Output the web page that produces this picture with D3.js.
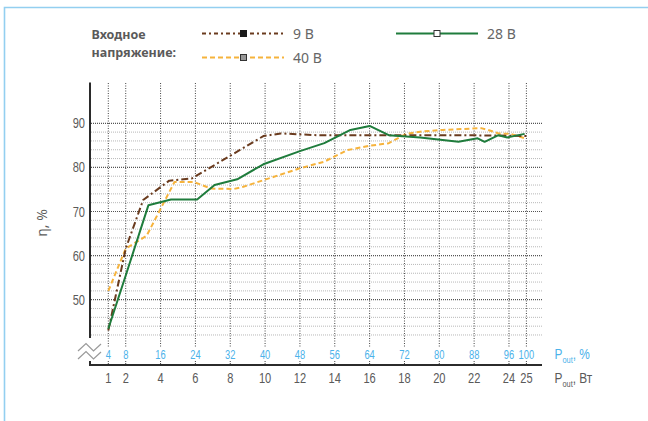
<!DOCTYPE html>
<html><head><meta charset="utf-8">
<script src="https://cdn.jsdelivr.net/npm/d3@7/dist/d3.min.js"></script>
<style>
html,body{margin:0;padding:0;background:#fff;}
svg{display:block;}
text{white-space:pre;}
</style></head>
<body><svg id="c" width="648" height="421"></svg>
<script>
// ---- data ----
const wattTicks = [1, 2, 4, 6, 8, 10, 12, 14, 16, 18, 20, 22, 24, 25];
const percentLabels = ["4", "8", "16", "24", "32", "40", "48", "56", "64", "72", "80", "88", "96", "100"];
const yTicks = [50, 60, 70, 80, 90];
const yMinorTicks = [42, 44, 46, 48, 52, 54, 56, 58, 62, 64, 66, 68, 72, 74, 76, 78, 82, 84, 86, 88];

const v9x = [1, 2, 3, 4.5, 5.8, 9.9, 10.9, 13, 16, 19, 21, 24, 25];
const v9y = [43, 61.6, 72.6, 77, 77.5, 87.1, 87.7, 87.3, 87.3, 87.3, 87.3, 87.2, 87.1];

const v28x = [1, 2, 3.3, 4.6, 6.1, 7.1, 8.4, 9.9, 12, 13.4, 14.9, 16, 17.1, 18.9, 21.1, 22.2, 22.6, 23.4, 23.9, 24.9];
const v28y = [43.4, 55.5, 71.4, 72.7, 72.7, 76, 77.3, 80.7, 83.7, 85.5, 88.5, 89.4, 87.3, 86.8, 85.8, 86.6, 85.8, 87.3, 86.8, 87.6];

const v40x = [1, 2, 3.2, 4.8, 5.9, 6.9, 8.2, 8.75, 9.9, 12, 13.4, 14.7, 16, 17.1, 18.1, 18.9, 20.2, 22.4, 22.8, 23.4, 24.1, 24.9];
const v40y = [52, 61.6, 64.5, 76.7, 76.7, 75.2, 75.1, 75.6, 77.1, 79.8, 81.3, 83.9, 84.9, 85.5, 87.6, 88.1, 88.5, 88.9, 88.5, 87.7, 87.6, 86.6];

const seriesNames = ["9 В", "28 В", "40 В"];

// ---- chart ----
const svg = d3.select("#c");
const cond = "'Liberation Sans','Arimo',sans-serif";
const sans = "'Noto Sans','Open Sans',sans-serif";
const grey = "#5a5a5a";
const blue = "#4cb2ea";
const SX = 0.74;

const x = d3.scaleLinear().domain([1, 25]).range([108.3, 526.4]);
const y = d3.scaleLinear().domain([50, 90]).range([299.7, 123.3]);

// frame
svg.append("path").attr("d", "M4.5,421 V7.5 H648").attr("fill", "none")
  .attr("stroke", "#93cff0").attr("stroke-width", 1.6);

// horizontal grid
const gx0 = 91, gx1 = 542;
svg.append("g").selectAll("line").data(yMinorTicks).join("line")
  .attr("x1", gx0).attr("x2", gx1).attr("y1", d => y(d)).attr("y2", d => y(d))
  .attr("stroke", "#b8b8b8").attr("stroke-width", 1).attr("stroke-dasharray", "1,1");
svg.append("g").selectAll("line").data(yTicks).join("line")
  .attr("x1", gx0).attr("x2", gx1).attr("y1", d => y(d)).attr("y2", d => y(d))
  .attr("stroke", "#555").attr("stroke-width", 1.2).attr("stroke-dasharray", "1,1");

// vertical grid
const vg = svg.append("g");
vg.selectAll("line.a").data(wattTicks).join("line").attr("class", "a")
  .attr("x1", d => x(d)).attr("x2", d => x(d)).attr("y1", 83).attr("y2", 347)
  .attr("stroke", "#444").attr("stroke-width", 1).attr("stroke-dasharray", "1,1.5");
vg.selectAll("line.b").data(wattTicks).join("line").attr("class", "b")
  .attr("x1", d => x(d)).attr("x2", d => x(d)).attr("y1", 361).attr("y2", 365)
  .attr("stroke", "#444").attr("stroke-width", 1).attr("stroke-dasharray", "1,1");

// axes lines
svg.append("line").attr("x1", 90).attr("x2", 90).attr("y1", 82.5).attr("y2", 338)
  .attr("stroke", "#2b2b2b").attr("stroke-width", 2);
svg.append("path").attr("d", "M90,361 V365 H542").attr("fill", "none")
  .attr("stroke", "#2b2b2b").attr("stroke-width", 2);

// axis break zigzag
const zz = d3.line();
[0, 8].forEach(o => {
  svg.append("path").attr("d", zz([[78, 351 + o], [86, 343.5 + o], [93.5, 351 + o], [101, 344 + o]]))
    .attr("fill", "none").attr("stroke", "#999").attr("stroke-width", 1.2);
});

// y tick labels
svg.append("g").selectAll("g").data(yTicks).join("g")
  .attr("transform", d => `translate(85,${y(d) + 5}) scale(${SX},1)`)
  .append("text").attr("text-anchor", "end").attr("font-family", cond)
  .attr("font-size", 15).attr("fill", grey).text(d => d);

// y title
svg.append("text").attr("transform", "translate(47,223) rotate(-90)")
  .attr("text-anchor", "middle").attr("font-family", sans).attr("font-size", 14)
  .attr("fill", grey).text("η, %");

// percent labels
svg.append("g").selectAll("g").data(wattTicks).join("g")
  .attr("transform", d => `translate(${x(d)},358.5) scale(0.78,1)`)
  .append("text").attr("text-anchor", "middle").attr("font-family", cond)
  .attr("font-size", 12).attr("fill", blue).text((d, i) => percentLabels[i]);

// watt labels
svg.append("g").selectAll("g").data(wattTicks).join("g")
  .attr("transform", d => `translate(${x(d)},382.5) scale(${SX},1)`)
  .append("text").attr("text-anchor", "middle").attr("font-family", cond)
  .attr("font-size", 15).attr("fill", grey).text(d => d);

// axis unit labels
function unit(yb, color, tail) {
  const t = svg.append("g").attr("transform", `translate(554.5,${yb}) scale(0.82,1)`)
    .append("text").attr("x", 0).attr("y", 0)
    .attr("font-family", cond).attr("font-size", 14.5).attr("fill", color);
  t.append("tspan").text("P");
  t.append("tspan").attr("font-size", 9).attr("dy", 4.5).text("out");
  t.append("tspan").attr("dy", -4.5).text(",");
  t.append("tspan").attr("dx", 4).text(tail);
}
unit(358.5, blue, "%");
unit(382.5, grey, "Вт");

// series lines
const styles = [
  {color: "#6a3b1e", dash: "7,3,2,3", width: 2},
  {color: "#1f7c3c", dash: null, width: 2},
  {color: "#f6b33c", dash: "5,3", width: 2}
];
const xs = [v9x, v28x, v40x], ys = [v9y, v28y, v40y];
const line = d3.line().x(d => x(d[0])).y(d => y(d[1]));
[2, 0, 1].forEach(i => {
  const pts = xs[i].map((v, k) => [v, ys[i][k]]);
  svg.append("path").attr("d", line(pts)).attr("fill", "none")
    .attr("stroke", styles[i].color).attr("stroke-width", styles[i].width)
    .attr("stroke-dasharray", styles[i].dash).attr("stroke-linejoin", "round");
});

// legend
svg.append("text").attr("x", 91.5).attr("y", 38.5).attr("font-family", sans)
  .attr("font-weight", "bold").attr("font-size", 12.5).attr("fill", grey).text("Входное");
svg.append("text").attr("x", 91.5).attr("y", 57).attr("font-family", sans)
  .attr("font-weight", "bold").attr("font-size", 12.5).attr("fill", grey).text("напряжение:");

const legendPos = [
  {x0: 202, x1: 284, yy: 33.5, mx: 243.5, fill: "#1a1a1a", stroke: "#1a1a1a", tx: 293},
  {x0: 396, x1: 478, yy: 33.5, mx: 437, fill: "#fff", stroke: "#333", tx: 487},
  {x0: 202, x1: 284, yy: 57.5, mx: 243.5, fill: "#999", stroke: "#333", tx: 293}
];
legendPos.forEach((p, i) => {
  svg.append("line").attr("x1", p.x0).attr("x2", p.x1).attr("y1", p.yy).attr("y2", p.yy)
    .attr("stroke", styles[i].color).attr("stroke-width", 2)
    .attr("stroke-dasharray", i === 0 ? "4,3,2,3" : styles[i].dash);
  svg.append("rect").attr("x", p.mx - 3).attr("y", p.yy - 3).attr("width", 6).attr("height", 6)
    .attr("fill", p.fill).attr("stroke", p.stroke).attr("stroke-width", 1);
  svg.append("text").attr("x", p.tx).attr("y", p.yy + 5).attr("font-family", sans)
    .attr("font-size", 14).attr("fill", "#666").text(seriesNames[i]);
});
</script></body></html>
